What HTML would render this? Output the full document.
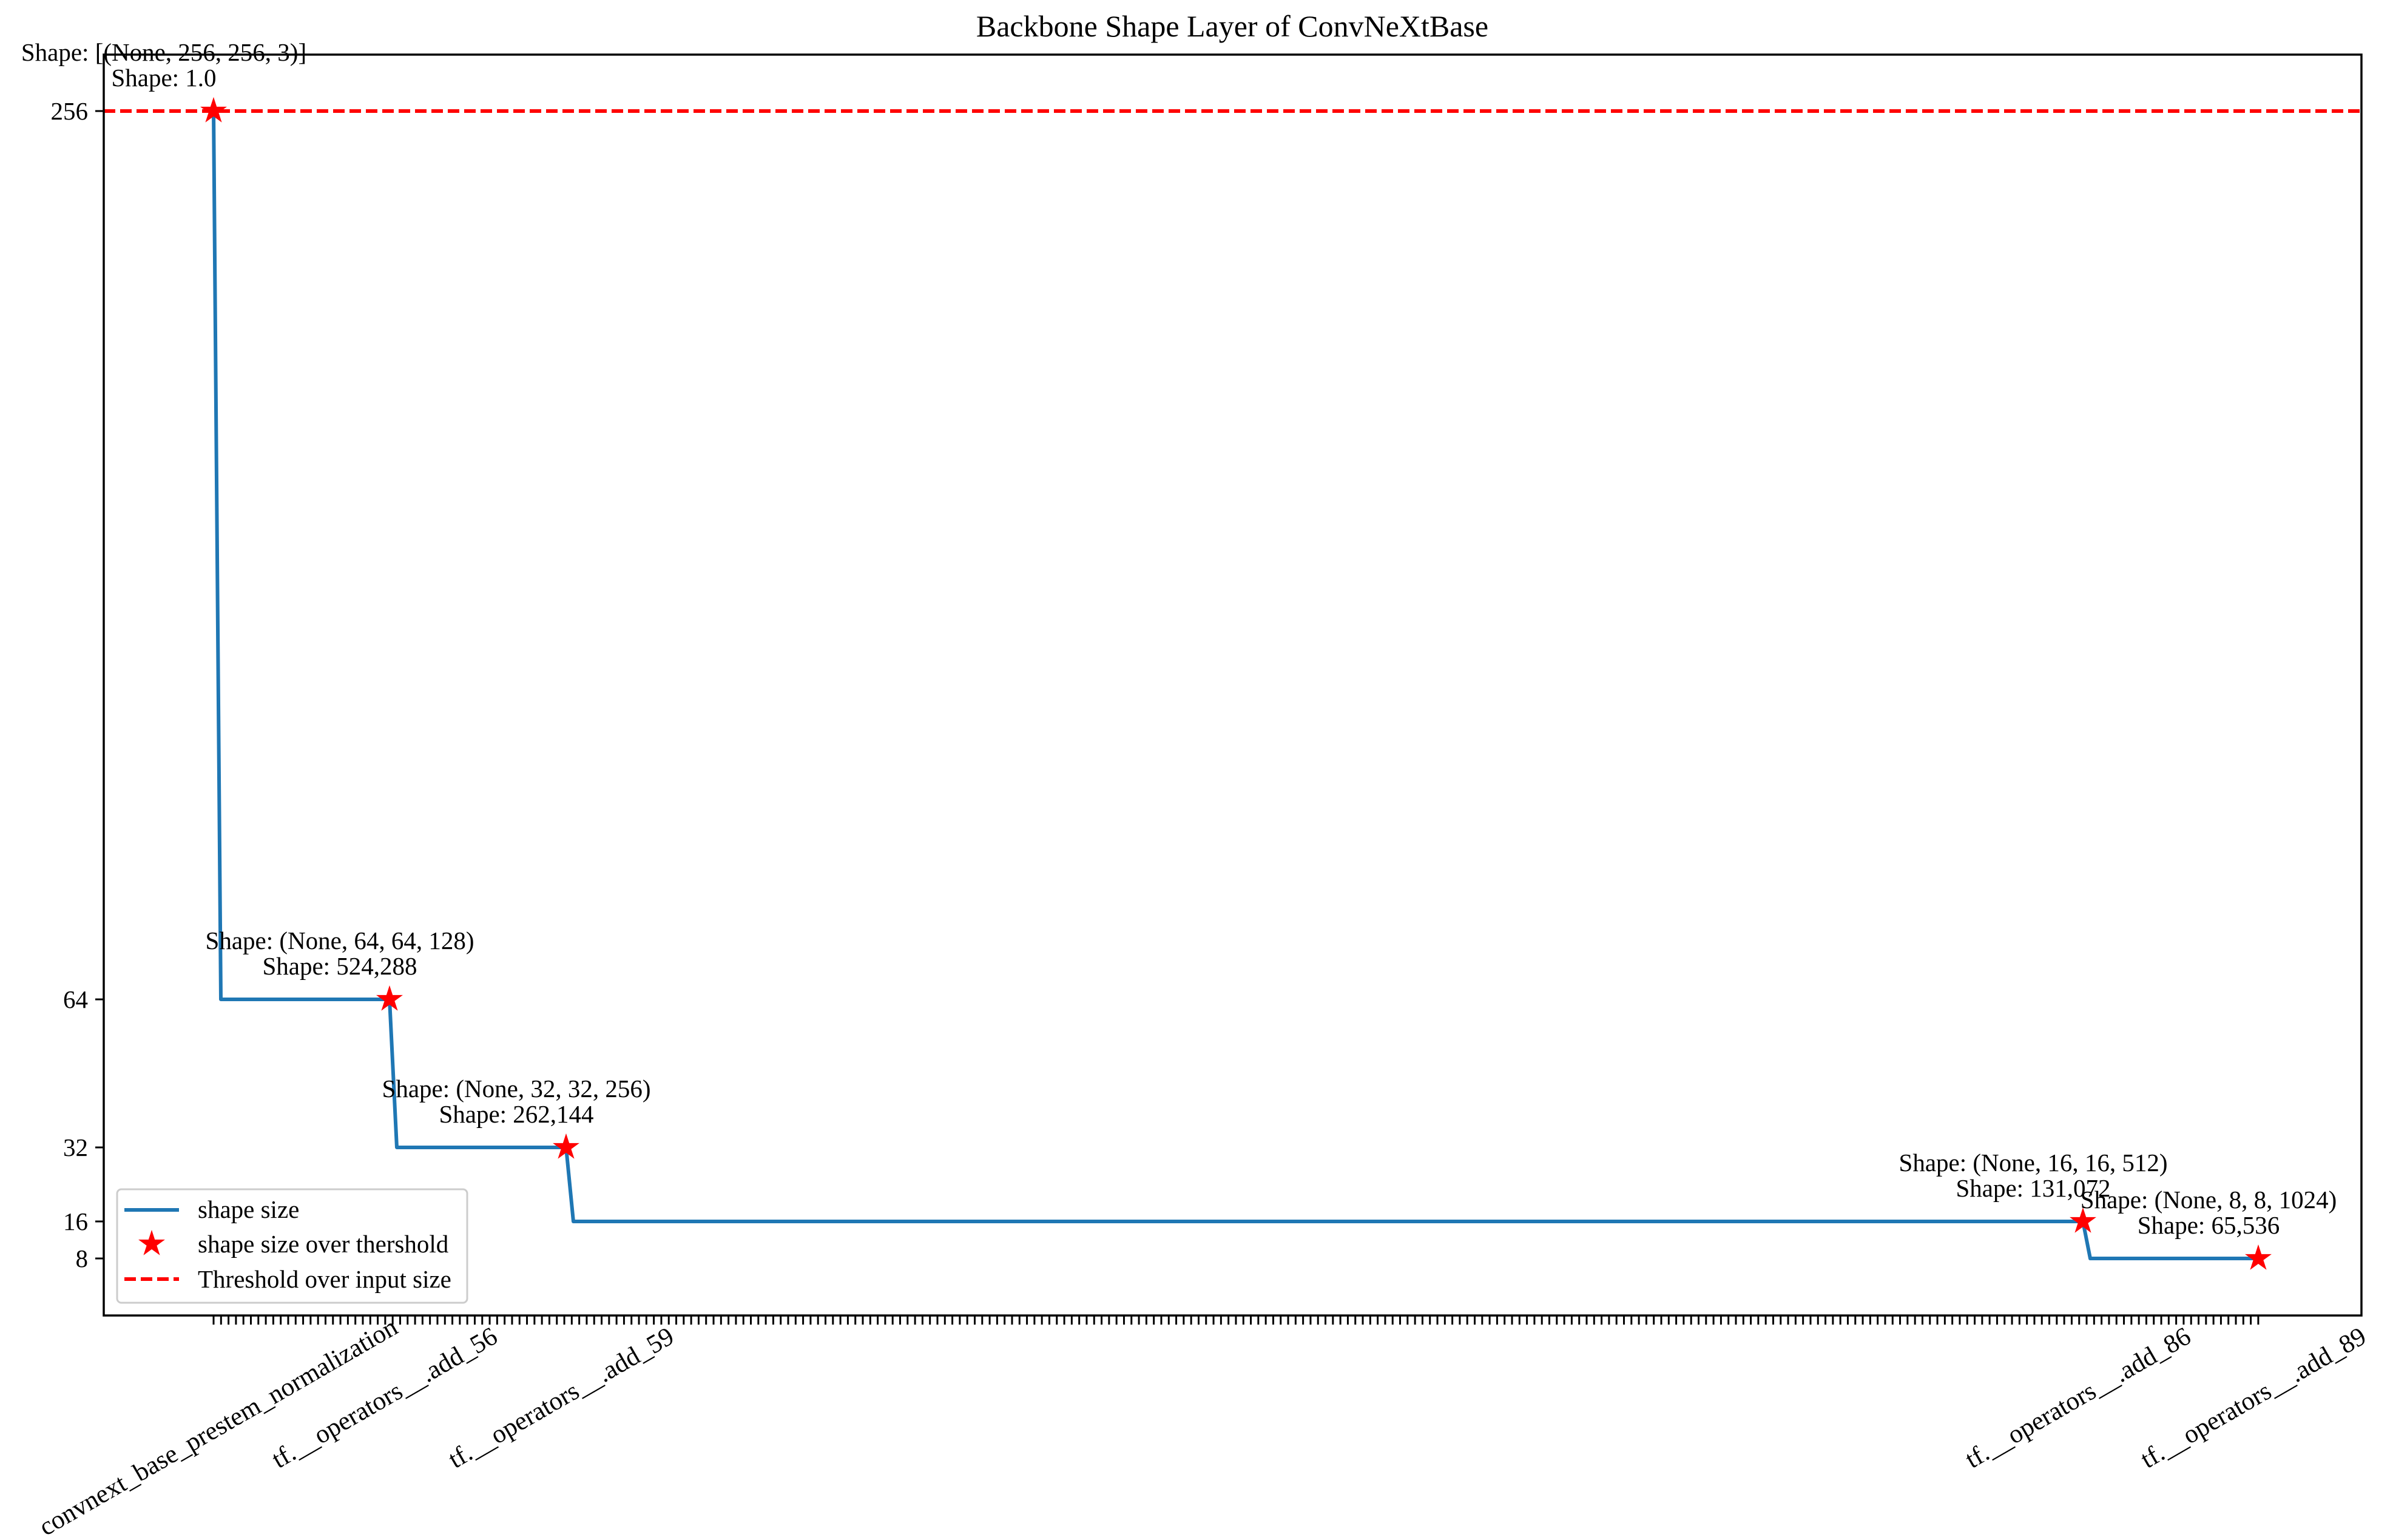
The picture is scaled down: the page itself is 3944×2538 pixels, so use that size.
<!DOCTYPE html>
<html><head><meta charset="utf-8"><style>
html,body{margin:0;padding:0;background:#fff;}
svg{display:block;}
text{font-family:"Liberation Serif",serif;fill:#000;}
</style></head><body>
<svg width="3944" height="2538" viewBox="0 0 3944 2538" xmlns="http://www.w3.org/2000/svg">
<defs>
<path id="star" transform="scale(1.1)" d="M0,-21 L4.71,-6.49 L19.97,-6.49 L7.63,2.48 L12.34,16.99 L0,8.02 L-12.34,16.99 L-7.63,2.48 L-19.97,-6.49 L-4.71,-6.49 Z" fill="#ff0000"/>
<pattern id="ticks" x="350.5" y="0" width="12.299" height="20" patternUnits="userSpaceOnUse">
<rect x="0" y="0" width="3" height="20" fill="#000"/>
</pattern>
</defs>
<text x="2031" y="60" font-size="50" text-anchor="middle">Backbone Shape Layer of ConvNeXtBase</text>
<line x1="171" y1="183" x2="3892" y2="183" stroke="#ff0000" stroke-width="6" stroke-dasharray="19 8"/>
<path d="M352 183 L364 1647 L642 1647 L654 1891 L933 1891 L945 2013 L3433 2013 L3445 2074 L3722 2074" fill="none" stroke="#1f77b4" stroke-width="6" stroke-linejoin="round"/>
<use href="#star" x="352" y="183"/>
<use href="#star" x="642" y="1647"/>
<use href="#star" x="933" y="1891"/>
<use href="#star" x="3433" y="2013"/>
<use href="#star" x="3722" y="2074"/>
<rect x="171" y="90" width="3721" height="2078" fill="none" stroke="#000" stroke-width="3.5"/>
<g stroke="#000" stroke-width="3">
<line x1="157" y1="183" x2="171" y2="183"/>
<line x1="157" y1="1647" x2="171" y2="1647"/>
<line x1="157" y1="1891" x2="171" y2="1891"/>
<line x1="157" y1="2013" x2="171" y2="2013"/>
<line x1="157" y1="2074" x2="171" y2="2074"/>
</g>
<g font-size="41" text-anchor="end">
<text x="145" y="197">256</text>
<text x="145" y="1661">64</text>
<text x="145" y="1905">32</text>
<text x="145" y="2027">16</text>
<text x="145" y="2088">8</text>
</g>
<rect x="350.5" y="2169" width="3374" height="14" fill="url(#ticks)"/>
<g font-size="41" text-anchor="middle">
<text x="270" y="100">Shape: [(None, 256, 256, 3)]</text>
<text x="270" y="142">Shape: 1.0</text>
<text x="560" y="1564">Shape: (None, 64, 64, 128)</text>
<text x="560" y="1606">Shape: 524,288</text>
<text x="851" y="1808">Shape: (None, 32, 32, 256)</text>
<text x="851" y="1850">Shape: 262,144</text>
<text x="3351" y="1930">Shape: (None, 16, 16, 512)</text>
<text x="3351" y="1972">Shape: 131,072</text>
<text x="3640" y="1991">Shape: (None, 8, 8, 1024)</text>
<text x="3640" y="2033">Shape: 65,536</text>
</g>
<rect x="193" y="1960" width="577" height="187" rx="7" fill="#fff" fill-opacity="0.8" stroke="#cccccc" stroke-width="3"/>
<line x1="205" y1="1994" x2="295" y2="1994" stroke="#1f77b4" stroke-width="6"/>
<use href="#star" x="250" y="2050"/>
<line x1="205" y1="2108" x2="295" y2="2108" stroke="#ff0000" stroke-width="6" stroke-dasharray="19 8"/>
<g font-size="41">
<text x="326" y="2007">shape size</text>
<text x="326" y="2064">shape size over thershold</text>
<text x="326" y="2122">Threshold over input size</text>
</g>
<g font-size="43" text-anchor="middle" dominant-baseline="central">
<text transform="translate(360,2352) rotate(-30)">convnext_base_prestem_normalization</text>
<text transform="translate(634,2304) rotate(-30)">tf.__operators__.add_56</text>
<text transform="translate(925,2304) rotate(-30)">tf.__operators__.add_59</text>
<text transform="translate(3425,2304) rotate(-30)">tf.__operators__.add_86</text>
<text transform="translate(3714,2304) rotate(-30)">tf.__operators__.add_89</text>
</g>
</svg>
</body></html>
